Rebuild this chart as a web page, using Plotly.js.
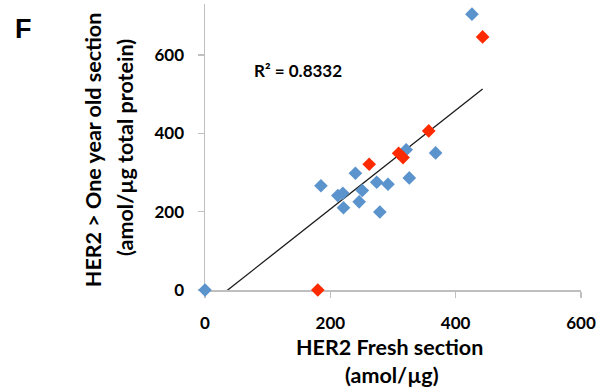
<!DOCTYPE html>
<html>
<head>
<meta charset="utf-8">
<script src="https://cdn.plot.ly/plotly-3.0.1.min.js"></script>
<style>
  html, body { margin: 0; padding: 0; background: #fff; }
  #chart { width: 602px; height: 388px; }
</style>
</head>
<body>
<div id="chart"></div>
<script>
// HER2 measured in fresh sections (x) vs. sections stored over one year (y), amol/µg
const blueFresh = [0, 426, 321, 368, 240, 326, 185, 274, 292, 220, 212, 251, 221, 246, 279];
const blueOld   = [0, 704, 358, 350, 298, 286, 266, 275, 270, 247, 241, 254, 210, 225, 199];
const redFresh  = [180, 443, 357, 309, 316, 262];
const redOld    = [0, 646, 406, 349, 338, 321];

const xTicks = [0, 200, 400, 600];
const yTicks = [0, 200, 400, 600];
const rSquaredLabel = 'R² = 0.8332';

// linear trendline fitted to the blue series, drawn across the full x span of the data
const n = blueFresh.length;
const mx = blueFresh.reduce((a, b) => a + b, 0) / n;
const my = blueOld.reduce((a, b) => a + b, 0) / n;
let sxy = 0, sxx = 0;
for (let i = 0; i < n; i++) {
  sxy += (blueFresh[i] - mx) * (blueOld[i] - my);
  sxx += (blueFresh[i] - mx) ** 2;
}
const slope = sxy / sxx;
const intercept = my - slope * mx;
const allFresh = blueFresh.concat(redFresh);
const lineX = [Math.min(...allFresh), Math.max(...allFresh)];
const lineY = lineX.map(v => intercept + slope * v);

const font = 'Lato, "Open Sans", sans-serif';

const traces = [
  { x: lineX, y: lineY, type: 'scatter', mode: 'lines',
    line: { color: '#1a1a1a', width: 1.3 }, hoverinfo: 'skip' },
  { x: blueFresh, y: blueOld, type: 'scatter', mode: 'markers', cliponaxis: false,
    marker: { symbol: 'diamond', size: 10.5, color: '#5b93cd' } },
  { x: redFresh, y: redOld, type: 'scatter', mode: 'markers', cliponaxis: false,
    marker: { symbol: 'diamond', size: 10.5, color: '#ff2a00' } }
];

const axisCommon = {
  showgrid: false, zeroline: false, showline: true,
  linecolor: '#bfbfbf', linewidth: 1.5,
  ticks: 'outside', ticklen: 6, tickcolor: '#bfbfbf', tickwidth: 1.5,
  tickfont: { family: font, size: 17, color: '#000', weight: 'bold' },
  layer: 'below traces', fixedrange: true
};

const titleFont = { family: font, size: 21.5, color: '#000', weight: 'bold' };

const layout = {
  width: 602, height: 388,
  margin: { l: 205, r: 21, t: 4, b: 98 },
  paper_bgcolor: '#fff', plot_bgcolor: '#fff',
  showlegend: false,
  xaxis: Object.assign({}, axisCommon, {
    range: [0, 600], tickvals: xTicks, ticktext: xTicks.map(String),
    ticklabelstandoff: 11
  }),
  yaxis: Object.assign({}, axisCommon, {
    range: [0, 730], tickvals: yTicks, ticktext: yTicks.map(String),
    ticklabelstandoff: 10
  }),
  annotations: [
    { text: rSquaredLabel, xref: 'x', yref: 'y', x: 148, y: 559, showarrow: false,
      xanchor: 'center', yanchor: 'middle',
      font: { family: font, size: 17, color: '#000', weight: 'bold' } },
    { text: 'HER2 Fresh section', xref: 'paper', yref: 'paper', x: 0.49, y: -0.198,
      showarrow: false, xanchor: 'center', yanchor: 'middle', font: titleFont },
    { text: '(amol/µg)', xref: 'paper', yref: 'paper', x: 0.497, y: -0.297,
      showarrow: false, xanchor: 'center', yanchor: 'middle', font: titleFont },
    { text: 'HER2 > One year old section', xref: 'paper', yref: 'paper', x: -0.297, y: 0.49,
      textangle: -90, showarrow: false, xanchor: 'center', yanchor: 'middle', font: titleFont },
    { text: '(amol/µg total protein)', xref: 'paper', yref: 'paper', x: -0.213, y: 0.5,
      textangle: -90, showarrow: false, xanchor: 'center', yanchor: 'middle', font: titleFont },
    { text: 'F', xref: 'paper', yref: 'paper', x: -0.484, y: 0.912,
      showarrow: false, xanchor: 'center', yanchor: 'middle',
      font: { family: 'Liberation Sans, Arial, sans-serif', size: 27, color: '#000', weight: 'bold' } }
  ]
};

Plotly.newPlot('chart', traces, layout, { displayModeBar: false, staticPlot: true });
</script>
</body>
</html>
